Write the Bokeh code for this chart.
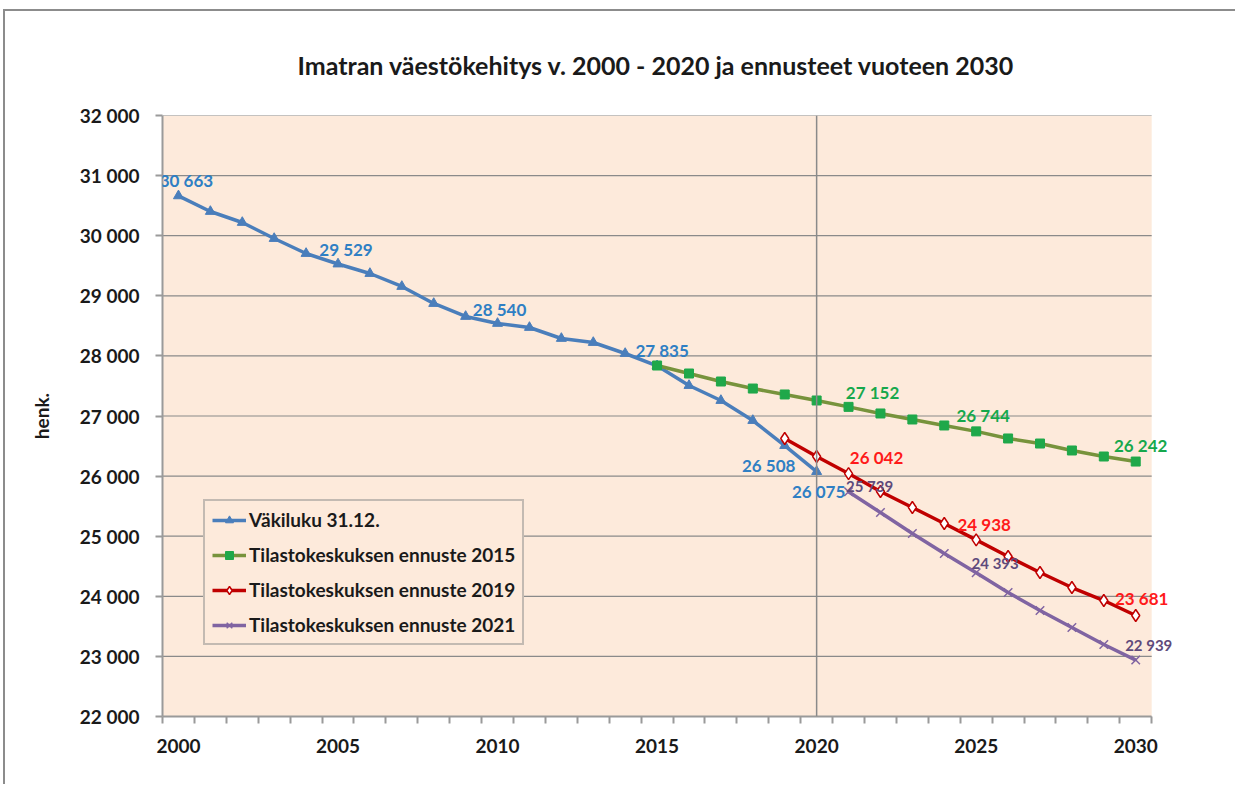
from bokeh.plotting import figure
from bokeh.models import (ColumnDataSource, FixedTicker, Span, Legend, LegendItem, LabelSet)
from bokeh.core.properties import value
from bokeh.embed import file_html
from bokeh.resources import INLINE

# ---------------- data ----------------
years_obs = list(range(2000, 2021))
vakiluku = [30663, 30403, 30220, 29953, 29704, 29529, 29371, 29155, 28872, 28656,
            28540, 28473, 28290, 28223, 28040, 27835, 27507, 27258, 26925, 26508, 26075]

years_e2015 = list(range(2015, 2031))
ennuste2015 = [27840, 27707, 27574, 27457, 27358, 27258, 27152, 27042, 26942, 26842,
               26744, 26626, 26542, 26426, 26326, 26242]

years_e2019 = list(range(2019, 2031))
ennuste2019 = [26626, 26326, 26042, 25744, 25478, 25211, 24938, 24662, 24396, 24146,
               23930, 23681]

years_e2021 = list(range(2021, 2031))
ennuste2021 = [25739, 25394, 25045, 24712, 24393, 24063, 23764, 23481, 23198, 22939]

series_names = ["Väkiluku 31.12.", "Tilastokeskuksen ennuste 2015",
                "Tilastokeskuksen ennuste 2019", "Tilastokeskuksen ennuste 2021"]

# labelled points (years)
lab_obs_years = [2000, 2005, 2010, 2015, 2019, 2020]
lab_2015_years = [2021, 2025, 2030]
lab_2019_years = [2021, 2025, 2030]
lab_2021_years = [2021, 2025, 2030]

y_ticks = list(range(22000, 32001, 1000))
x_label_years = [2000, 2005, 2010, 2015, 2020, 2025, 2030]
all_years = list(range(2000, 2031))

title_text = "Imatran väestökehitys v. 2000 - 2020 ja ennusteet vuoteen 2030"
y_title = "henk."

# ---------------- styles ----------------
FONT = "Lato"
PEACH = "#fdeadb"
GRID = "#8a8a8a"
C_BLUE, C_BLUE_LAB = "#4a7ebb", "#2f7fc4"
C_GREEN_LINE, C_GREEN_MK, C_GREEN_LAB = "#77933c", "#1fa84a", "#16a84c"
C_RED_LINE, C_RED_LAB = "#c00000", "#ff1a1a"
C_PURP_LINE, C_PURP_LAB = "#8064a2", "#5f4a7b"

# label offsets (screen px): dx right, dy up
off_obs = [(8, 15), (8, 15), (2, 14), (5, 15), (-16, -20), (2, -20)]
off_2015 = [(24, 14), (7, 16), (5, 16)]
off_2019 = [(28, 16), (8, 15), (6, 17)]
off_2021 = [(21, 6), (19, 10), (13, 15)]

x_lo = all_years[0] - 0.5
x_hi = all_years[-1] + 0.5

p = figure(width=1232, height=775, output_backend="svg", toolbar_location=None,
           x_range=(x_lo, x_hi + 2), y_range=(y_ticks[0], y_ticks[-1]),
           min_border_left=157, min_border_right=22, min_border_top=104,
           min_border_bottom=70)
p.styles = {"border-top": "2px solid #8c8c8c", "border-left": "2px solid #8c8c8c",
            "margin-top": "9px", "margin-left": "3px"}
p.background_fill_color = "white"
p.border_fill_color = "white"
p.outline_line_color = None

p.title.text = title_text
p.title.align = "left"
p.title.offset = 135
p.title.text_font = FONT
p.title.text_font_size = "25px"
p.title.text_font_style = "bold"
p.title.text_color = "#1a1a1a"
p.title.standoff = 72

# plot-area background and horizontal grid (limited to the category span)
p.quad(left=[x_lo], right=[x_hi], bottom=[y_ticks[0]], top=[y_ticks[-1]],
       fill_color=PEACH, line_color=None, level="underlay")
p.segment(x0=[x_lo] * len(y_ticks), x1=[x_hi] * len(y_ticks), y0=y_ticks, y1=y_ticks,
          line_color=GRID, line_width=1.2, level="underlay")
p.xgrid.grid_line_color = None
p.ygrid.grid_line_color = None

p.yaxis.ticker = FixedTicker(ticks=y_ticks)
p.yaxis.major_label_overrides = {t: f"{t:,}".replace(",", " ") for t in y_ticks}
p.xaxis.ticker = FixedTicker(ticks=x_label_years,
                             minor_ticks=[y - 0.5 for y in all_years] + [x_hi])
p.xaxis.major_label_overrides = {t: str(t) for t in x_label_years}
p.xaxis.bounds = (x_lo, x_hi)

for ax in (p.xaxis[0], p.yaxis[0]):
    ax.axis_line_color = "#9a9a9a"
    ax.axis_line_width = 2
    ax.major_tick_line_color = "#9a9a9a"
    ax.minor_tick_line_color = "#9a9a9a"
    ax.major_tick_line_width = 2
    ax.minor_tick_line_width = 2
    ax.major_label_text_font = FONT
    ax.major_label_text_font_style = "bold"
    ax.major_label_text_font_size = "19px"
    ax.major_label_text_color = "#1a1a1a"

p.xaxis.major_tick_in = 0
p.xaxis.major_tick_out = 0
p.xaxis.minor_tick_in = 0
p.xaxis.minor_tick_out = 7
p.xaxis.major_label_standoff = 15
p.yaxis.major_tick_in = 0
p.yaxis.major_tick_out = 7
p.yaxis.minor_tick_out = 0
p.yaxis.minor_tick_in = 0
p.yaxis.major_label_standoff = 16
p.yaxis.axis_label = y_title
p.yaxis.axis_label_text_font = FONT
p.yaxis.axis_label_text_font_style = "bold"
p.yaxis.axis_label_text_font_size = "19px"
p.yaxis.axis_label_text_color = "#1a1a1a"
p.yaxis.axis_label_standoff = 24

p.add_layout(Span(location=2020, dimension="height", line_color=GRID,
                  line_width=1.5))

# series
l1 = p.line(years_obs, vakiluku, line_color=C_BLUE, line_width=3.5)
m1 = p.scatter(years_obs, vakiluku, marker="triangle", size=10, fill_color=C_BLUE,
               line_color=C_BLUE)
l2 = p.line(years_e2015, ennuste2015, line_color=C_GREEN_LINE, line_width=3.5)
m2 = p.scatter(years_e2015, ennuste2015, marker="square", size=9, fill_color=C_GREEN_MK,
               line_color=C_GREEN_MK)
l3 = p.line(years_e2019, ennuste2019, line_color=C_RED_LINE, line_width=3.5)
m3 = p.scatter(years_e2019, ennuste2019, marker="diamond", size=12, fill_color="white",
               line_color=C_RED_LINE, line_width=1.5)
l4 = p.line(years_e2021, ennuste2021, line_color=C_PURP_LINE, line_width=3.5)
m4 = p.scatter(years_e2021, ennuste2021, marker="x", size=12, line_color=C_PURP_LINE,
               line_width=1.5)


def add_labels(yrs, vals, lab_years, offs, color, size, style="bold"):
    xs, ys, ts, dx, dy = [], [], [], [], []
    for yr, (ox, oy) in zip(lab_years, offs):
        v = vals[yrs.index(yr)]
        xs.append(yr)
        ys.append(v)
        ts.append(f"{v:,}".replace(",", " "))
        dx.append(ox)
        dy.append(oy)
    src = ColumnDataSource(dict(x=xs, y=ys, t=ts, dx=dx, dy=dy))
    p.add_layout(LabelSet(x="x", y="y", text="t", x_offset="dx", y_offset="dy",
                          source=src, text_align="center", text_baseline="middle",
                          text_color=color, text_font=value(FONT),
                          text_font_size=value(size), text_font_style=value(style)))


add_labels(years_obs, vakiluku, lab_obs_years, off_obs, C_BLUE_LAB, "17px")
add_labels(years_e2015, ennuste2015, lab_2015_years, off_2015, C_GREEN_LAB, "17px")
add_labels(years_e2019, ennuste2019, lab_2019_years, off_2019, C_RED_LAB, "17px")
add_labels(years_e2021, ennuste2021, lab_2021_years, off_2021, C_PURP_LAB, "15px")

legend = Legend(items=[LegendItem(label=series_names[0], renderers=[l1, m1]),
                       LegendItem(label=series_names[1], renderers=[l2, m2]),
                       LegendItem(label=series_names[2], renderers=[l3, m3]),
                       LegendItem(label=series_names[3], renderers=[l4, m4])],
                location=(41, 71))
legend.background_fill_color = PEACH
legend.background_fill_alpha = 1
legend.border_line_color = GRID
legend.border_line_width = 2
legend.label_text_font = FONT
legend.label_text_font_style = "bold"
legend.label_text_font_size = "19px"
legend.label_text_color = "#1a1a1a"
legend.glyph_width = 34
legend.glyph_height = 20
legend.label_height = 20
legend.label_standoff = 3
legend.spacing = 12
legend.padding = 7
legend.margin = 0
p.add_layout(legend)

open("out.html", "w").write(file_html(p, INLINE))
